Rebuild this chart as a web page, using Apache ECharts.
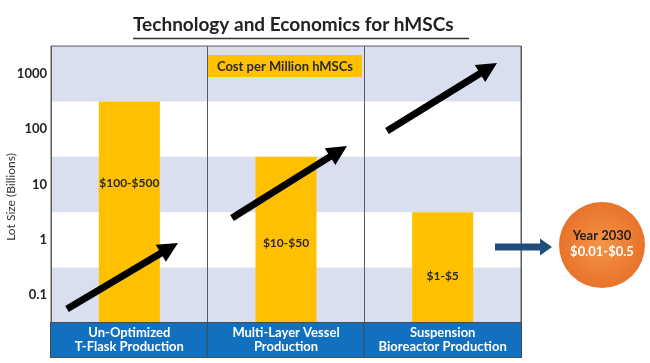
<!DOCTYPE html>
<html><head><meta charset="utf-8">
<script src="https://cdn.jsdelivr.net/npm/echarts@6/dist/echarts.min.js"></script>
<style>html,body{margin:0;padding:0;background:#fff}#c{width:650px;height:363px}</style>
</head><body><div id="c"></div>
<script>
// ---- data ----
const categories = ['Un-Optimized\nT-Flask Production', 'Multi-Layer Vessel\nProduction', 'Suspension\nBioreactor Production'];
const lotSizes = [316, 31.6, 3.16];
const costLabels = ['$100-$500', '$10-$50', '$1-$5'];
const yTickLabels = ['0.1', '1', '10', '100', '1000'];
const axisMin = 0.03162, axisMax = 3162;
const bandEdges = [0.03162, 0.3162, 3.162, 31.62, 316.2, 3162];
const chartTitle = 'Technology and Economics for hMSCs';
const yName = 'Lot Size (Billions)';
const costTitle = 'Cost per Million hMSCs';
const futureYear = 'Year 2030';
const futureCost = '$0.01-$0.5';

// ---- styling ----
const FONT = 'Lato, "Open Sans", sans-serif';
const labelShift = [-29, 3, 9];
const BAND = '#D9DFEF';

function arrowPts(x1, y1, x2, y2, w, hl, hw) {
  const dx = x2 - x1, dy = y2 - y1, L = Math.hypot(dx, dy), ux = dx / L, uy = dy / L, px = -uy, py = ux;
  const bx = x2 - ux * hl, by = y2 - uy * hl;
  return [[x1 + px * w / 2, y1 + py * w / 2], [bx + px * w / 2, by + py * w / 2], [bx + px * hw / 2, by + py * hw / 2],
    [x2, y2], [bx - px * hw / 2, by - py * hw / 2], [bx - px * w / 2, by - py * w / 2], [x1 - px * w / 2, y1 - py * w / 2]];
}
const blackArrows = [[67, 309, 178, 243], [232, 218, 347, 146], [387, 131, 497, 63]];

const bands = [];
for (let i = 0; i < bandEdges.length - 1; i += 2) bands.push([{ yAxis: bandEdges[i] }, { yAxis: bandEdges[i + 1] }]);

const chart = echarts.init(document.getElementById('c'), null, { renderer: 'canvas' });
chart.setOption({
  animation: false,
  backgroundColor: '#fff',
  textStyle: { fontFamily: FONT },
  title: {
    text: chartTitle, left: 133, top: 15, padding: 0,
    textStyle: { fontFamily: FONT, fontSize: 19, fontWeight: 'bold', color: '#222' }
  },
  grid: { left: 51, right: 129, top: 46, bottom: 40, show: true, z: 10, outerBoundsMode: 'none', containLabel: false,
    borderColor: '#5a5a5a', borderWidth: 1, backgroundColor: 'transparent' },
  xAxis: {
    type: 'category', data: categories, z: 10,
    axisLine: { show: false }, axisTick: { show: false },
    splitLine: { show: true, lineStyle: { color: '#5a5a5a', width: 1 } },
    axisLabel: {
      interval: 0, margin: 0, color: '#fff', fontFamily: FONT, fontSize: 13, fontWeight: 'bold', lineHeight: 14,
      backgroundColor: '#1170C0', width: 156.7, height: 28, padding: [3, 0, 3, 0],
      borderColor: '#4a4a4a', borderWidth: 1, align: 'center', verticalAlign: 'top', hideOverlap: false
    }
  },
  yAxis: {
    type: 'log', logBase: 10, min: axisMin, max: axisMax, startValue: axisMin,
    axisLine: { show: false }, axisTick: { show: false }, splitLine: { show: false },
    axisLabel: {
      margin: 4, color: '#222', fontFamily: FONT, fontSize: 13, fontWeight: 'bold',
      formatter: v => { const s = String(+(+v).toPrecision(6)); return yTickLabels.includes(s) ? s : ''; }
    },
    name: yName, nameLocation: 'middle', nameRotate: 90, nameGap: 34, nameMoveOverlap: false,
    nameTextStyle: { fontFamily: FONT, fontSize: 12, color: '#333', padding: [0, 25, 0, 0] }
  },
  series: [{
    type: 'bar', barWidth: 61, z: 2,
    itemStyle: { color: '#FFC000' },
    data: lotSizes.map((v, i) => ({ value: v, label: { offset: [0, labelShift[i]] } })),
    label: {
      show: true, position: 'inside', formatter: p => costLabels[p.dataIndex],
      color: '#2a2a2a', fontFamily: FONT, fontSize: 12, fontWeight: 'bold'
    },
    markArea: { silent: true, itemStyle: { color: BAND }, data: bands }
  }],
  graphic: [
    { type: 'line', z: 100, shape: { x1: 133, y1: 38.5, x2: 469, y2: 38.5 }, style: { stroke: '#333', lineWidth: 1.5 } },
    { type: 'rect', z: 100, shape: { x: 208, y: 55, width: 154, height: 22 }, style: { fill: '#FFC000' } },
    { type: 'text', z: 101, x: 285, y: 66.5, style: { text: costTitle, align: 'center', verticalAlign: 'middle', fill: '#2a2a2a', font: 'bold 13px ' + FONT } },
    ...blackArrows.map(a => ({ type: 'polygon', z: 100, shape: { points: arrowPts(a[0], a[1], a[2], a[3], 7, 20, 20) }, style: { fill: '#000' } })),
    { type: 'polygon', z: 100, shape: { points: arrowPts(495, 247, 552, 247, 7, 12, 17) }, style: { fill: '#1F4E79' } },
    { type: 'circle', z: 100, shape: { cx: 602, cy: 245, r: 43 },
      style: { fill: new echarts.graphic.RadialGradient(0.5, 0.5, 0.5, [{ offset: 0, color: '#F39447' }, { offset: 1, color: '#E8732B' }]) } },
    { type: 'text', z: 101, x: 602, y: 236, style: { text: futureYear, align: 'center', verticalAlign: 'middle', fill: '#222', font: 'bold 13px ' + FONT } },
    { type: 'text', z: 101, x: 602, y: 252, style: { text: futureCost, align: 'center', verticalAlign: 'middle', fill: '#fff', font: 'bold 13px ' + FONT } }
  ]
});
</script></body></html>
